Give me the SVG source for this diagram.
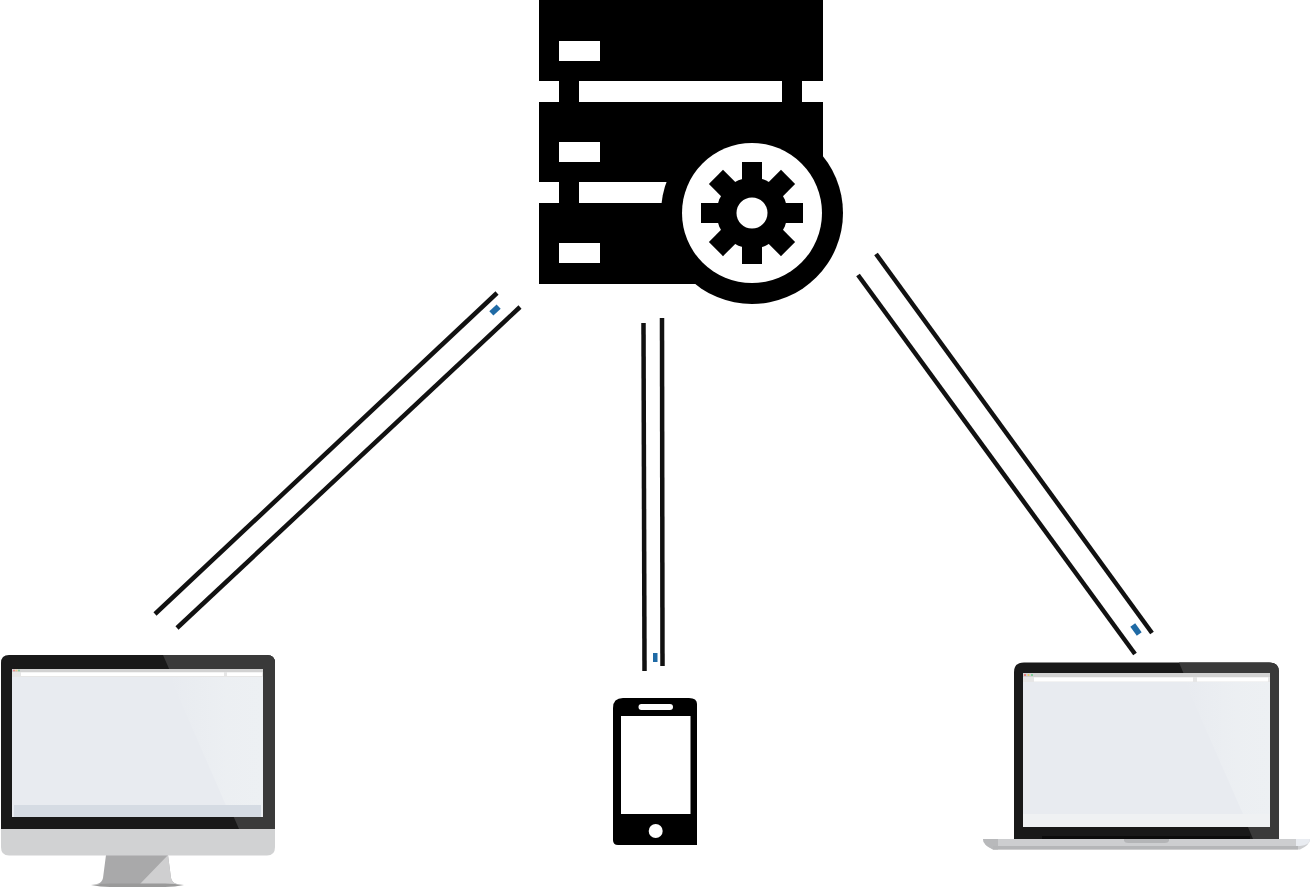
<svg xmlns="http://www.w3.org/2000/svg" width="1310" height="887" viewBox="0 0 1310 887">
<style>
.k{fill:#000}.w{fill:#fff}.l{stroke:#111;stroke-width:4.500;fill:none}.b{fill:#1f6aa5}
.bz{fill:#191919}.hl{fill:#3a3a3a}.sc{fill:#e8ebf0}.gl{fill:url(#gloss)}.tb{fill:#d2d2d2}.tb2{fill:#e6e6e6}
</style>
<defs>
<linearGradient id="gloss" x1="0" y1="0" x2="1" y2="0">
<stop offset="0" stop-color="#edf0f3" stop-opacity="0"/>
<stop offset="0.6" stop-color="#edf0f3" stop-opacity="0.8"/>
<stop offset="1" stop-color="#edf0f3"/>
</linearGradient>
</defs>
<rect width="1310" height="887" fill="#fff"/>
<g id="server">
<rect class="k" x="539" y="0" width="284" height="81"/>
<path class="k" d="M539 102H823V160H700V182H539Z"/>
<rect class="k" x="539" y="203" width="160" height="81"/>
<rect class="k" x="559" y="81" width="20" height="21"/>
<rect class="k" x="782" y="81" width="20" height="21"/>
<rect class="k" x="559" y="182" width="20" height="21"/>
<rect class="w" x="559" y="41" width="41" height="20"/>
<rect class="w" x="559" y="142" width="41" height="20"/>
<rect class="w" x="559" y="243" width="41" height="20"/>
<circle class="k" cx="752" cy="213" r="91"/>
<circle class="w" cx="752" cy="213" r="70"/>
<g class="k">
<circle cx="752" cy="213" r="35.500"/>
<rect x="742" y="162" width="20" height="102"/>
<rect x="701" y="203" width="102" height="20"/>
<rect x="742" y="162" width="20" height="102" transform="rotate(45 752 213)"/>
<rect x="742" y="162" width="20" height="102" transform="rotate(-45 752 213)"/>
</g>
<circle class="w" cx="752" cy="213" r="15.500"/>
</g>
<g id="connectors">
<line class="l" x1="155" y1="614" x2="497" y2="293"/>
<line class="l" x1="177" y1="628" x2="520" y2="307"/>
<rect class="b" x="490" y="307" width="10" height="6" transform="rotate(-43 495 310)"/>
<line class="l" x1="644.500" y1="671" x2="643.500" y2="323"/>
<line class="l" x1="662.500" y1="666" x2="662" y2="318"/>
<rect class="b" x="653" y="653" width="4.500" height="9"/>
<line class="l" x1="876" y1="254" x2="1152" y2="633"/>
<line class="l" x1="858" y1="275" x2="1135" y2="654"/>
<rect class="b" x="1133" y="624" width="6" height="11" transform="rotate(-36 1136 629.500)"/>
</g>
<g id="desktop">
<path d="M106 855H168L171 878Q172 883 177 884H97Q102 883 103 878Z" fill="#a9a9aa"/>
<path d="M168 855L171 878Q172 883 177 884H140Z" fill="#cfcfd0"/>
<path d="M91 885Q100 883.500 110 883.500H165Q175 883.500 184 885Q175 887 165 887H110Q100 887 91 885Z" fill="#9a9a9a"/>
<path d="M1 828H275V847Q275 855.500 267 855.500H9Q1 855.500 1 847Z" fill="#d1d2d3"/>
<path class="bz" d="M1 829V663Q1 655 9 655H267Q275 655 275 663V829Z"/>
<path class="hl" d="M163 655H267Q275 655 275 663V829H239Z"/>
<rect class="sc" x="12" y="669" width="251" height="148"/>
<path class="gl" d="M170 677H263V817H231Z"/>
<rect x="14" y="805" width="247" height="12" fill="#d5dbe3"/>
<rect class="tb" x="12" y="669" width="251" height="3"/>
<rect class="tb2" x="12" y="672" width="251" height="5"/>
<rect class="w" x="21" y="672.500" width="203" height="3.500"/>
<rect class="w" x="227" y="672.500" width="35" height="3.500"/>
<circle cx="14" cy="670.500" r="1" fill="#e88"/><circle cx="16.500" cy="670.500" r="1" fill="#ec8"/><circle cx="19" cy="670.500" r="1" fill="#8c9"/>
</g>
<g id="phone">
<path class="k" d="M613 708Q613 698 623 698H689Q697 698 697 704V845H618Q613 845 613 840Z"/>
<rect class="w" x="621" y="716" width="69.500" height="98"/>
<rect class="w" x="638.500" y="704" width="34.500" height="6" rx="3"/>
<circle class="w" cx="655.700" cy="831" r="7"/>
</g>
<g id="laptop">
<path d="M983 839H1310Q1310 845 1300 849.500H993Q983 845 983 839Z" fill="#cdced0"/>
<path d="M983 839H998V849.500H993Q983 845 983 839Z" fill="#b8b9bb"/>
<path d="M1296 839H1310Q1310 845 1300 846H1296Z" fill="#e9ecf1"/>
<rect x="993" y="846" width="305" height="3.500" fill="#b5b6b8"/>
<path d="M1124 839H1169V841Q1168 843 1165 843H1128Q1125 843 1124 841Z" fill="#b4b5b7"/>
<path class="bz" d="M1014 839V672Q1014 662.500 1024 662.500H1269Q1279 662.500 1279 672V839Z"/>
<path class="hl" d="M1179 662.500H1269Q1279 662.500 1279 672V839H1253Z"/>
<rect x="1042" y="836" width="208" height="3" fill="#0c0c0c"/>
<rect class="sc" x="1023" y="673" width="247" height="154"/>
<path class="gl" d="M1185 682H1270V814H1243Z"/>
<rect x="1023" y="814" width="247" height="13" fill="#eff1f3"/>
<rect class="tb" x="1023" y="673" width="247" height="4"/>
<rect class="tb2" x="1023" y="677" width="247" height="5"/>
<rect class="w" x="1034" y="677.500" width="159" height="4"/>
<rect class="w" x="1197" y="677.500" width="71" height="4"/>
<circle cx="1025" cy="675" r="1" fill="#e66"/><circle cx="1028.500" cy="675" r="1" fill="#ec6"/><circle cx="1032" cy="675" r="1" fill="#6c8"/>
</g>
</svg>
